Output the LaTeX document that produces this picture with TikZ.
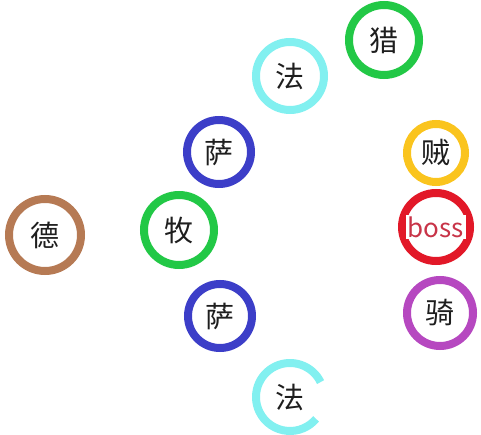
\documentclass[tikz,border=0pt]{standalone}
\usepackage{fontspec}
\setmainfont{Noto Sans CJK SC}
\definecolor{cgreen}{RGB}{34,200,70}
\definecolor{ccyan}{RGB}{130,240,240}
\definecolor{cblue}{RGB}{60,62,200}
\definecolor{cgold}{RGB}{250,196,30}
\definecolor{cbrown}{RGB}{182,122,84}
\definecolor{cred}{RGB}{226,24,40}
\definecolor{cbosstext}{RGB}{200,52,72}
\definecolor{cpurple}{RGB}{182,72,192}
\definecolor{ctext}{RGB}{30,30,30}
\tikzset{
  ring/.style={circle, draw=#1, line width=8pt, inner sep=0pt, text=ctext,
    font=\fontsize{29}{31}\selectfont},
  plain/.style={circle, inner sep=0pt, text=ctext, font=\fontsize{29}{31}\selectfont},
  arcring/.style={draw=#1, line width=8pt}
}
\begin{document}
\begin{tikzpicture}[x=1pt,y=1pt]
\useasboundingbox (0,0) rectangle (481,434);
\node[ring=cgreen, minimum size=70pt] (lie) at (384,394) {猎};
\node[ring=ccyan, minimum size=68pt] (fa1) at (290,358) {法};
\node[ring=cblue, minimum size=64pt] (sa1) at (219,282) {萨};
\node[ring=cgold, minimum size=58pt] (zei) at (436,281) {贼};
\node[ring=cbrown, minimum size=72pt] (de) at (45,199) {德};
\node[ring=cgreen, minimum size=70pt] (mu) at (179,204) {牧};
\node[ring=cred, minimum size=68pt, font=\fontsize{26}{28}\selectfont, text=cbosstext] (boss) at (436,207)
  {\setlength{\fboxsep}{1.5pt}\colorbox{white}{boss}};
\node[ring=cblue, minimum size=64pt] (sa2) at (220,118) {萨};
\node[ring=cpurple, minimum size=66pt] (qi) at (440,121) {骑};
\node[plain, minimum size=68pt] (fa2) at (290,37) {法};
\draw[arcring=ccyan] ([shift={(26:34)}]fa2.center) arc[start angle=26, end angle=320, radius=34];
\end{tikzpicture}
\end{document}
